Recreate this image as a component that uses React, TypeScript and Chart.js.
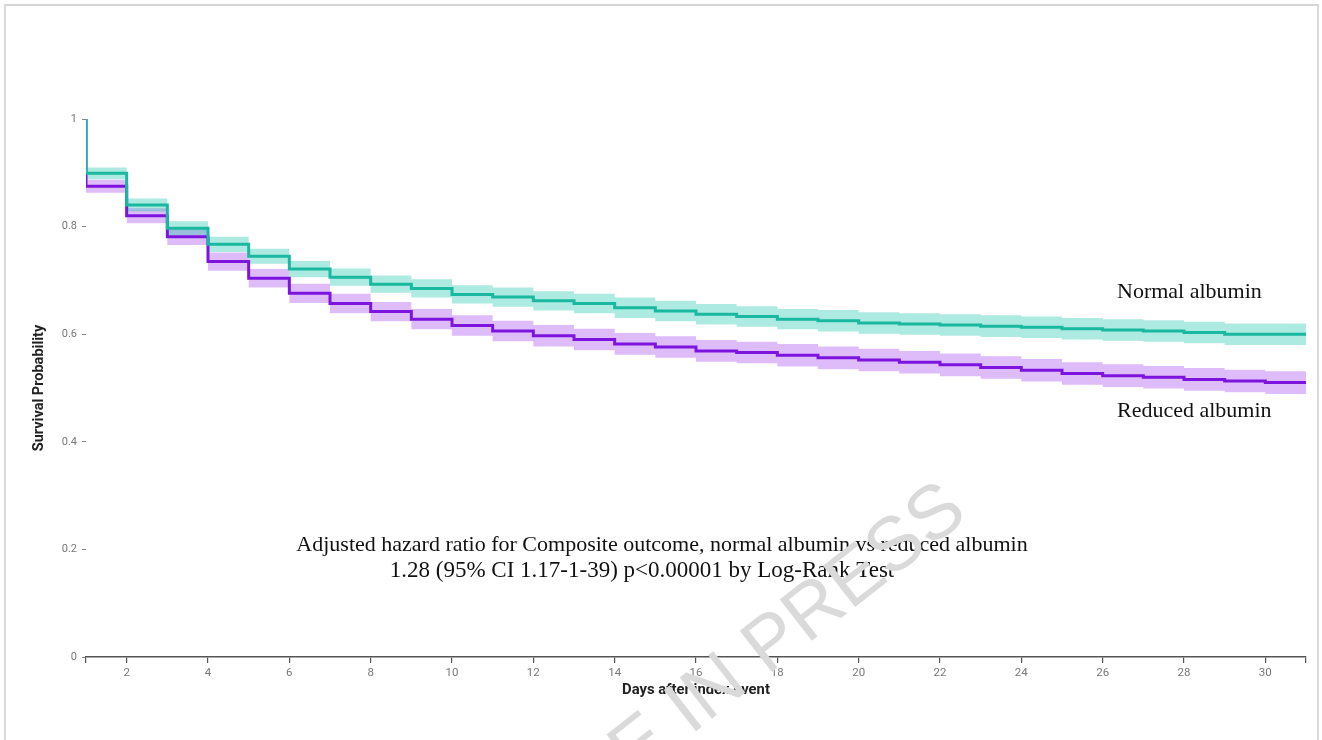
import React, { useEffect, useRef } from "react";
import { Chart, registerables } from "chart.js";

Chart.register(...registerables);

// Interval start days (value holds from day d until d+1); curve ends at day 31
const days = [1, 2, 3, 4, 5, 6, 7, 8, 9, 10, 11, 12, 13, 14, 15, 16, 17, 18, 19, 20, 21, 22, 23, 24, 25, 26, 27, 28, 29, 30];
const endDay = 31;
const startSurvival = 1;

const normalSurv = [0.899, 0.840, 0.797, 0.767, 0.745, 0.721, 0.706, 0.693, 0.685, 0.674, 0.669, 0.662, 0.657, 0.649, 0.643, 0.637, 0.633, 0.628, 0.625, 0.621, 0.619, 0.617, 0.615, 0.613, 0.610, 0.608, 0.606, 0.603, 0.600, 0.600];
const normalUpper = [0.910, 0.852, 0.810, 0.781, 0.759, 0.736, 0.722, 0.709, 0.702, 0.691, 0.687, 0.680, 0.675, 0.668, 0.662, 0.656, 0.652, 0.647, 0.645, 0.641, 0.639, 0.637, 0.635, 0.633, 0.630, 0.628, 0.626, 0.623, 0.620, 0.620];
const normalLower = [0.888, 0.828, 0.784, 0.753, 0.731, 0.706, 0.690, 0.677, 0.668, 0.657, 0.651, 0.644, 0.639, 0.630, 0.624, 0.618, 0.614, 0.609, 0.605, 0.601, 0.599, 0.597, 0.595, 0.593, 0.590, 0.588, 0.586, 0.583, 0.580, 0.580];

const reducedSurv = [0.875, 0.820, 0.781, 0.735, 0.704, 0.676, 0.657, 0.642, 0.628, 0.616, 0.606, 0.597, 0.590, 0.582, 0.576, 0.569, 0.566, 0.561, 0.556, 0.552, 0.548, 0.543, 0.538, 0.533, 0.527, 0.523, 0.520, 0.516, 0.513, 0.510];
const reducedUpper = [0.887, 0.834, 0.796, 0.752, 0.721, 0.694, 0.675, 0.660, 0.647, 0.635, 0.625, 0.617, 0.610, 0.602, 0.596, 0.589, 0.586, 0.582, 0.577, 0.573, 0.569, 0.564, 0.559, 0.554, 0.548, 0.544, 0.541, 0.537, 0.534, 0.531];
const reducedLower = [0.863, 0.806, 0.766, 0.718, 0.687, 0.658, 0.639, 0.624, 0.609, 0.597, 0.587, 0.577, 0.570, 0.562, 0.556, 0.549, 0.546, 0.540, 0.535, 0.531, 0.527, 0.522, 0.517, 0.512, 0.506, 0.502, 0.499, 0.495, 0.492, 0.489];

const xTickValues = [1, 2, 4, 6, 8, 10, 12, 14, 16, 18, 20, 22, 24, 26, 28, 30, 31];
const xLabelled = [2, 4, 6, 8, 10, 12, 14, 16, 18, 20, 22, 24, 26, 28, 30];

const seriesNames = ["Normal albumin", "Reduced albumin"];
const noteLines = [
  "Adjusted hazard ratio for Composite outcome, normal albumin vs reduced albumin",
  "1.28 (95% CI 1.17-1-39) p<0.00001 by Log-Rank Test",
];
const watermark = "ARTICLE IN PRESS";

const TEAL = "rgb(26,184,160)";
const TEAL_BAND = "rgba(40,200,175,0.38)";
const PURPLE = "rgb(124,20,222)";
const PURPLE_BAND = "rgba(168,80,240,0.38)";

function curve(vals: number[], withStart: boolean) {
  const pts: { x: number; y: number }[] = [];
  if (withStart) pts.push({ x: days[0], y: startSurvival });
  days.forEach((d, i) => pts.push({ x: d, y: vals[i] }));
  pts.push({ x: endDay, y: vals[vals.length - 1] });
  return pts;
}

export default function App() {
  const ref = useRef<HTMLCanvasElement | null>(null);

  useEffect(() => {
    if (!ref.current) return;
    const textPlugin = {
      id: "texts",
      afterDatasetsDraw(chart: any) {
        const ctx = chart.ctx;
        ctx.save();
        ctx.fillStyle = "#111";
        ctx.textBaseline = "middle";
        ctx.font = '22px "Liberation Serif"';
        ctx.textAlign = "left";
        ctx.fillText(seriesNames[0], 1117, 292);
        ctx.fillText(seriesNames[1], 1117, 411);
        ctx.textAlign = "center";
        ctx.font = '22px "Liberation Serif"';
        ctx.fillText(noteLines[0], 662, 545);
        ctx.font = '23px "Liberation Serif"';
        ctx.fillText(noteLines[1], 642, 571);
        ctx.restore();
      },
      afterDraw(chart: any) {
        const ctx = chart.ctx;
        ctx.save();
        ctx.translate(970, 517);
        ctx.rotate((-38 * Math.PI) / 180);
        ctx.font = '76px "Liberation Sans"';
        ctx.fillStyle = "rgb(218,218,218)";
        ctx.textAlign = "right";
        ctx.textBaseline = "alphabetic";
        ctx.fillText(watermark, 0, 0);
        ctx.restore();
      },
    };

    const chart = new Chart(ref.current, {
      type: "line",
      data: {
        datasets: [
          {
            label: seriesNames[0],
            data: curve(normalSurv, true),
            stepped: "before",
            borderColor: TEAL,
            borderWidth: 3,
            pointRadius: 0,
            fill: false,
          },
          {
            label: seriesNames[1],
            data: curve(reducedSurv, true),
            stepped: "before",
            borderColor: PURPLE,
            borderWidth: 3,
            pointRadius: 0,
            fill: false,
          },
          {
            label: "normal upper",
            data: curve(normalUpper, false),
            stepped: "before",
            borderWidth: 0,
            pointRadius: 0,
            backgroundColor: TEAL_BAND,
            fill: "+1",
          },
          {
            label: "normal lower",
            data: curve(normalLower, false),
            stepped: "before",
            borderWidth: 0,
            pointRadius: 0,
            fill: false,
          },
          {
            label: "reduced upper",
            data: curve(reducedUpper, false),
            stepped: "before",
            borderWidth: 0,
            pointRadius: 0,
            backgroundColor: PURPLE_BAND,
            fill: "+1",
          },
          {
            label: "reduced lower",
            data: curve(reducedLower, false),
            stepped: "before",
            borderWidth: 0,
            pointRadius: 0,
            fill: false,
          },
        ],
      },
      options: {
        responsive: false,
        animation: false,
        layout: { padding: { top: 119, right: 16, left: 0, bottom: 0 } },
        plugins: { legend: { display: false }, tooltip: { enabled: false } },
        scales: {
          x: {
            type: "linear",
            min: 1,
            max: 31,
            afterBuildTicks: (axis: any) => {
              axis.ticks = xTickValues.map((v) => ({ value: v }));
            },
            afterFit: (axis: any) => {
              axis.height = 83;
            },
            ticks: {
              autoSkip: false,
              maxRotation: 0,
              color: "#777",
              font: { family: "Roboto", size: 11.5 },
              padding: 3,
              callback: (v: any) => (xLabelled.includes(Number(v)) ? String(v) : ""),
            },
            grid: { drawOnChartArea: false, drawTicks: true, tickLength: 6, color: "#555", lineWidth: 1.2 },
            border: { display: true, color: "#555", width: 1.5 },
            title: {
              display: true,
              text: "Days after index event",
              color: "#222",
              font: { family: "Roboto", size: 14.8, weight: "bold" },
              padding: { top: 0, bottom: 41 },
            },
          },
          y: {
            min: 0,
            max: 1,
            afterFit: (axis: any) => {
              axis.width = 86;
            },
            ticks: {
              stepSize: 0.2,
              color: "#777",
              font: { family: "Roboto", size: 11 },
              padding: 5,
              callback: (v: any) => String(Number(Number(v).toFixed(1))),
            },
            grid: { drawOnChartArea: false, drawTicks: true, tickLength: 4, color: "#888" },
            border: { display: false },
            title: {
              display: true,
              text: "Survival Probability",
              color: "#222",
              font: { family: "Roboto", size: 14.5, weight: "bold" },
              padding: { top: 31, bottom: 0 },
            },
          },
        },
      },
      plugins: [textPlugin],
    } as any);
    return () => chart.destroy();
  }, []);

  return (
    <div style={{ position: "absolute", left: 0, top: 0, width: 1322, height: 740, overflow: "hidden", background: "#fff" }}>
      <div
        style={{
          position: "absolute",
          left: 4,
          top: 4,
          width: 1315,
          height: 760,
          borderTop: "2px solid #d6d6d6",
          borderLeft: "2px solid #dadada",
          borderRight: "2px solid #dadada",
          boxSizing: "border-box",
        }}
      />
      <canvas ref={ref} width={1322} height={740} style={{ position: "absolute", left: 0, top: 0, display: "block" }} />
    </div>
  );
}
